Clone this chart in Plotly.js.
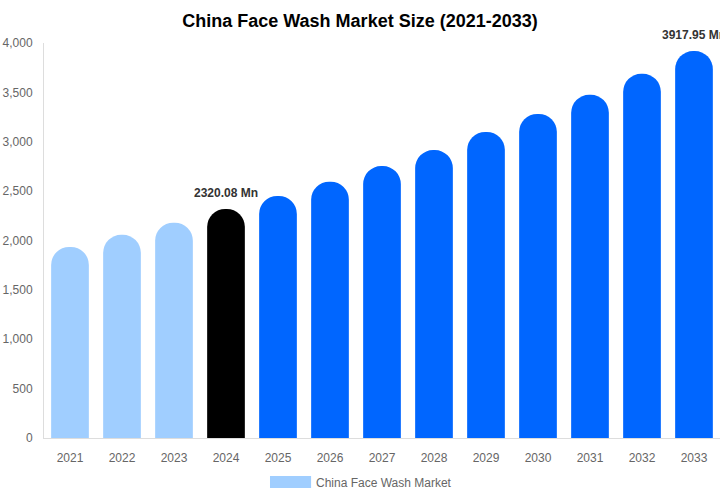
<!DOCTYPE html>
<html>
<head>
<meta charset="utf-8">
<script src="https://cdn.plot.ly/plotly-3.0.1.min.js"></script>
<style>
	html, body { margin: 0; padding: 0; background: #fff; }
	#chartDiv { width: 720px; height: 500px; }
</style>
</head>
<body>
<div id="chartDiv"></div>
<script>
// values (USD Mn)
var years = ["2021", "2022", "2023", "2024", "2025", "2026", "2027", "2028", "2029", "2030", "2031", "2032", "2033"];
var marketSize = [1935, 2058, 2180, 2320.08, 2451, 2595, 2754, 2916, 3099, 3281, 3475, 3688, 3917.95];
var barColors = ["#a0ceff", "#a0ceff", "#a0ceff", "#000000", "#0066ff", "#0066ff", "#0066ff",
	"#0066ff", "#0066ff", "#0066ff", "#0066ff", "#0066ff", "#0066ff"];
var labelled = ["2024", "2033"];
var seriesName = "China Face Wash Market";

var trace = {
	x: years,
	y: marketSize,
	type: "bar",
	name: seriesName,
	marker: {
		color: barColors,
		cornerradius: "50%"
	},
	hoverinfo: "x+y"
};

// value labels above the highlighted bars
// (x given as category index, a year string would be read as an index too)
var notes = [];
for (let i = 0; i < years.length; i++) {
	if (labelled.indexOf(years[i]) !== -1) {
		notes.push({
			x: i,
			y: marketSize[i],
			xref: "x",
			yref: "y",
			text: "<b>" + marketSize[i].toFixed(2) + " Mn</b>",
			showarrow: false,
			yanchor: "bottom",
			yshift: 7,
			font: {family: "Liberation Sans, Arial, sans-serif", size: 12, color: "#333"}
		});
	}
}
// home made legend, wide swatch like the reference
notes.push({
	x: 0.4, y: -0.1135, xref: "paper", yref: "paper",
	text: seriesName, showarrow: false, xanchor: "left", yanchor: "middle",
	font: {family: "Liberation Sans, Arial, sans-serif", size: 12, color: "#666"}
});

var layout = {
	width: 720,
	height: 500,
	margin: {l: 44, r: 0, t: 43, b: 62},
	paper_bgcolor: "#fff",
	plot_bgcolor: "#fff",
	bargap: 0.275,
	showlegend: false,
	font: {family: "Liberation Sans, Arial, sans-serif", size: 12, color: "#666"},
	title: {
		text: "<b>China Face Wash Market Size (2021-2033)</b>",
		x: 0.5,
		xanchor: "center",
		y: 0.958,
		yanchor: "middle",
		font: {family: "Liberation Sans, Arial, sans-serif", size: 18, color: "#000"}
	},
	xaxis: {
		type: "category",
		range: [-0.5, years.length - 0.5],
		showgrid: false,
		showline: true,
		linecolor: "#ddd",
		linewidth: 1,
		ticks: "",
		ticklabelstandoff: 9,
		tickfont: {size: 12, color: "#666"}
	},
	yaxis: {
		range: [0, 4000],
		dtick: 500,
		tickformat: ",",
		showgrid: false,
		zeroline: false,
		showline: true,
		linecolor: "#ddd",
		linewidth: 1,
		ticks: "",
		ticklabelstandoff: 8,
		tickfont: {size: 12, color: "#666"}
	},
	shapes: [{
		type: "rect",
		xref: "paper", yref: "paper",
		x0: 0.3343, x1: 0.3951,
		y0: -0.0963, y1: -0.1266,
		fillcolor: "#a0ceff",
		line: {width: 0}
	}],
	annotations: notes
};

Plotly.newPlot("chartDiv", [trace], layout, {displayModeBar: false, staticPlot: true});
</script>
</body>
</html>
